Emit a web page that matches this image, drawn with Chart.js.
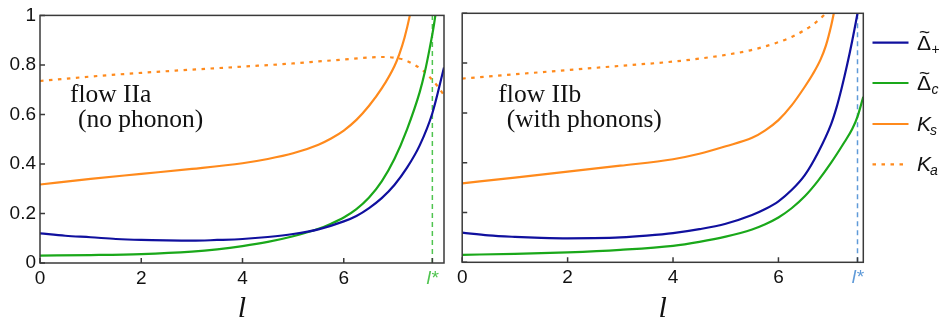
<!DOCTYPE html>
<html>
<head>
<meta charset="utf-8">
<script src="https://cdn.jsdelivr.net/npm/chart.js@4.4.1/dist/chart.umd.min.js"></script>
<style>
  html, body { margin: 0; padding: 0; background: #fff; }
  #wrap { position: relative; width: 941px; height: 321px; }
  canvas { position: absolute; top: 0; }
</style>
</head>
<body>
<div id="wrap">
  <canvas id="chartA" width="452" height="321" style="left:0"></canvas>
  <canvas id="chartB" width="489" height="321" style="left:452px"></canvas>
</div>
<script>
// ---- data ----
// flow IIa (no phonon)
const lDeltaPlusA = [0, 0.5, 1, 1.5, 2, 2.5, 3, 3.5, 4, 4.5, 5, 5.5, 6, 6.25, 6.5, 6.75, 7, 7.25, 7.5, 7.75, 7.98];
const deltaPlusA  = [0.12, 0.11, 0.104, 0.097, 0.093, 0.091, 0.09, 0.093, 0.097, 0.105, 0.117, 0.136, 0.168, 0.19, 0.222, 0.262, 0.315, 0.385, 0.475, 0.605, 0.79];
const lDeltaCA    = [0, 1, 2, 3, 3.5, 4, 4.5, 5, 5.5, 5.75, 6, 6.25, 6.5, 6.75, 7, 7.25, 7.5, 7.6, 7.7, 7.78, 7.83];
const deltaCA     = [0.03, 0.032, 0.036, 0.046, 0.055, 0.068, 0.085, 0.108, 0.138, 0.159, 0.184, 0.218, 0.265, 0.33, 0.42, 0.54, 0.69, 0.77, 0.87, 0.96, 1.03];
const lKsA        = [0, 1, 2, 3, 4, 4.5, 5, 5.5, 5.75, 6, 6.25, 6.5, 6.75, 7, 7.1, 7.2, 7.3, 7.35];
const ksA         = [0.317, 0.34, 0.36, 0.38, 0.403, 0.42, 0.443, 0.478, 0.503, 0.535, 0.578, 0.635, 0.705, 0.795, 0.845, 0.91, 0.995, 1.05];
const lKaA        = [0, 1, 2, 3, 4, 5, 5.5, 6, 6.5, 6.8, 7, 7.2, 7.4, 7.55, 7.7, 7.85, 7.98];
const kaA         = [0.735, 0.753, 0.768, 0.781, 0.793, 0.806, 0.814, 0.822, 0.83, 0.832, 0.829, 0.82, 0.80, 0.78, 0.75, 0.715, 0.678];
const lStarA = 7.75;
const xMaxA = 7.98;

// flow IIb (with phonons)
const lDeltaPlusB = [0, 0.5, 1, 1.5, 2, 2.5, 3, 3.5, 4, 4.5, 5, 5.5, 5.75, 6, 6.25, 6.5, 6.75, 7, 7.1, 7.2, 7.3, 7.4, 7.5, 7.54];
const deltaPlusB  = [0.119, 0.108, 0.102, 0.098, 0.096, 0.097, 0.10, 0.107, 0.117, 0.133, 0.155, 0.19, 0.214, 0.245, 0.29, 0.35, 0.44, 0.555, 0.62, 0.70, 0.79, 0.89, 1.0, 1.05];
const lDeltaCB    = [0, 1, 2, 3, 4, 4.5, 5, 5.5, 5.75, 6, 6.25, 6.5, 6.75, 7, 7.25, 7.4, 7.5, 7.61];
const deltaCB     = [0.03, 0.034, 0.04, 0.05, 0.066, 0.082, 0.103, 0.132, 0.153, 0.18, 0.217, 0.265, 0.327, 0.40, 0.482, 0.535, 0.585, 0.665];
const lKsB        = [0, 1, 2, 3, 4, 4.5, 5, 5.5, 5.75, 6, 6.25, 6.5, 6.65, 6.8, 6.9, 7, 7.07];
const ksB         = [0.317, 0.34, 0.364, 0.388, 0.414, 0.436, 0.466, 0.50, 0.53, 0.571, 0.63, 0.705, 0.755, 0.815, 0.87, 0.95, 1.02];
const lKaB        = [0, 1, 2, 3, 4, 4.5, 5, 5.5, 6, 6.25, 6.5, 6.7, 6.85, 6.93];
const kaB         = [0.738, 0.755, 0.772, 0.789, 0.806, 0.818, 0.833, 0.853, 0.884, 0.905, 0.933, 0.962, 0.99, 1.01];
const lStarB = 7.5;
const xMaxB = 7.61;

const xTicks = [0, 2, 4, 6];
const yTicks = [0, 0.2, 0.4, 0.6, 0.8, 1];

// legend rows: main symbol, subscript
const legendMain = ['Δ', 'Δ', 'K', 'K'];
const legendSub  = ['+', 'c', 's', 'a'];

const BLUE = '#10109e';
const GREEN = '#1aa81a';
const ORANGE = '#ff8a1c';

Chart.defaults.font.family = '"Liberation Sans", Arial, sans-serif';
Chart.defaults.color = '#111';

function pts(ls, vs) {
  return ls.map((l, i) => ({ x: l, y: vs[i] }));
}

function curve(data, color, dash) {
  return {
    data: data,
    borderColor: color,
    borderWidth: 2.2,
    borderDash: dash || [],
    pointRadius: 0,
    cubicInterpolationMode: 'monotone',
    fill: false,
  };
}

function starLine(lStar, color) {
  return {
    data: [{ x: lStar, y: 0 }, { x: lStar, y: 1 }],
    borderColor: color,
    borderWidth: 1.5,
    borderDash: [5, 4],
    pointRadius: 0,
    tension: 0,
    order: 10,
  };
}

// frame, inward ticks and the two text lines
const framePlugin = {
  id: 'frame',
  afterDatasetsDraw(chart, args, opts) {
    const { ctx, chartArea: a, scales } = chart;
    ctx.save();
    ctx.strokeStyle = '#3a3a3a';
    ctx.lineWidth = 1.5;
    ctx.beginPath();
    scales.x.ticks.forEach(t => {
      const px = scales.x.getPixelForValue(t.value);
      ctx.moveTo(px, a.bottom);
      ctx.lineTo(px, a.bottom - 5);
    });
    scales.y.ticks.forEach(t => {
      const py = scales.y.getPixelForValue(t.value);
      ctx.moveTo(a.left, py);
      ctx.lineTo(a.left + 5, py);
    });
    ctx.stroke();
    ctx.strokeRect(a.left, a.top, a.right - a.left, a.bottom - a.top);

    ctx.fillStyle = '#111';
    ctx.textAlign = 'left';
    ctx.textBaseline = 'alphabetic';
    ctx.font = '25.5px "Liberation Serif", "Times New Roman", serif';
    ctx.fillText(opts.line1, opts.x1, 101.5);
    ctx.fillText(opts.line2, opts.x2, 127);
    ctx.restore();
  }
};

const legendPlugin = {
  id: 'customLegend',
  afterDraw(chart, args, opts) {
    if (!opts.show) return;
    const ctx = chart.ctx;
    const rowsY = [42.7, 83, 124, 164.3];
    const x0 = 420.5, x1 = 456.5, tx = 465;
    chart.data.datasets.slice(0, 4).forEach((ds, i) => {
      const y = rowsY[i];
      ctx.save();
      ctx.strokeStyle = ds.borderColor;
      ctx.lineWidth = 2.2;
      ctx.setLineDash(ds.borderDash || []);
      ctx.beginPath();
      ctx.moveTo(x0, y);
      ctx.lineTo(x1, y);
      ctx.stroke();
      ctx.setLineDash([]);

      ctx.fillStyle = '#111';
      ctx.textAlign = 'left';
      ctx.textBaseline = 'alphabetic';
      const isDelta = i < 2;
      ctx.font = (isDelta ? '' : 'italic ') + '21px "Liberation Sans", Arial, sans-serif';
      ctx.fillText(legendMain[i], tx, y + 7);
      const w = ctx.measureText(legendMain[i]).width;
      if (isDelta) {
        ctx.font = '19px "Liberation Sans", Arial, sans-serif';
        ctx.textAlign = 'center';
        ctx.fillText('~', tx + w / 2 + 0.5, y - 4.5);
        ctx.textAlign = 'left';
      }
      ctx.font = (i === 0 ? '' : 'italic ') + '14px "Liberation Sans", Arial, sans-serif';
      ctx.fillText(legendSub[i], tx + w + (isDelta ? 0.5 : -1), y + 11);
      ctx.restore();
    });
  }
};

function makePanel(id, cfg) {
  return new Chart(document.getElementById(id), {
    type: 'line',
    data: {
      datasets: [
        curve(pts(cfg.lDp, cfg.dp), BLUE),
        curve(pts(cfg.lDc, cfg.dc), GREEN),
        curve(pts(cfg.lKs, cfg.ks), ORANGE),
        curve(pts(cfg.lKa, cfg.ka), ORANGE, [3.5, 5.5]),
        starLine(cfg.lStar, cfg.starColor),
      ]
    },
    options: {
      responsive: false,
      animation: false,
      devicePixelRatio: 1,
      layout: { padding: cfg.padding },
      plugins: {
        legend: { display: false },
        tooltip: { enabled: false },
        frame: { line1: cfg.text1, line2: cfg.text2, x1: cfg.tx1, x2: cfg.tx2 },
        customLegend: { show: cfg.legend },
      },
      scales: {
        x: {
          type: 'linear',
          min: 0,
          max: cfg.xMax,
          afterBuildTicks: s => { s.ticks = xTicks.concat([cfg.lStar]).map(v => ({ value: v })); },
          afterFit: s => { s.height = cfg.xHeight; },
          grid: { display: false, drawTicks: false },
          border: { display: false },
          ticks: {
            autoSkip: false,
            maxRotation: 0,
            padding: 4,
            callback: v => (v === cfg.lStar ? 'l*' : String(v)),
            color: c => (c.tick && c.tick.value === cfg.lStar ? cfg.starColor : '#111'),
            font: c => (c.tick && c.tick.value === cfg.lStar
              ? { size: 19, style: 'italic' }
              : { size: 19 }),
          },
          title: {
            display: true,
            text: 'l',
            color: '#111',
            padding: { top: 0, bottom: 0 },
            font: { family: '"Liberation Serif", "Times New Roman", serif', size: 30, style: 'italic', lineHeight: 0.8 },
          },
        },
        y: {
          type: 'linear',
          min: 0,
          max: 1,
          afterBuildTicks: s => { s.ticks = yTicks.map(v => ({ value: v })); },
          afterFit: s => { s.width = cfg.yWidth; },
          grid: { display: false, drawTicks: false },
          border: { display: false },
          ticks: {
            display: cfg.yLabels,
            padding: 4,
            font: { size: 19 },
            callback: v => (v === 0 ? '0' : v === 1 ? '1' : v.toFixed(1)),
          },
        },
      },
    },
    plugins: [framePlugin, legendPlugin],
  });
}

makePanel('chartA', {
  lDp: lDeltaPlusA, dp: deltaPlusA,
  lDc: lDeltaCA, dc: deltaCA,
  lKs: lKsA, ks: ksA,
  lKa: lKaA, ka: kaA,
  lStar: lStarA, xMax: xMaxA,
  starColor: '#4fc44f',
  padding: { top: 12.7, right: 8, bottom: 0, left: 0 },
  yWidth: 40, xHeight: 58, yLabels: true,
  text1: 'flow IIa', text2: '(no phonon)', tx1: 70, tx2: 78,
  legend: false,
});

makePanel('chartB', {
  lDp: lDeltaPlusB, dp: deltaPlusB,
  lDc: lDeltaCB, dc: deltaCB,
  lKs: lKsB, ks: ksB,
  lKa: lKaB, ka: kaB,
  lStar: lStarB, xMax: xMaxB,
  starColor: '#5f9ad8',
  padding: { top: 13.3, right: 77.7, bottom: 0, left: 0 },
  yWidth: 10.2, xHeight: 58.7, yLabels: false,
  text1: 'flow IIb', text2: '(with phonons)', tx1: 46.3, tx2: 54.7,
  legend: true,
});
</script>
</body>
</html>
